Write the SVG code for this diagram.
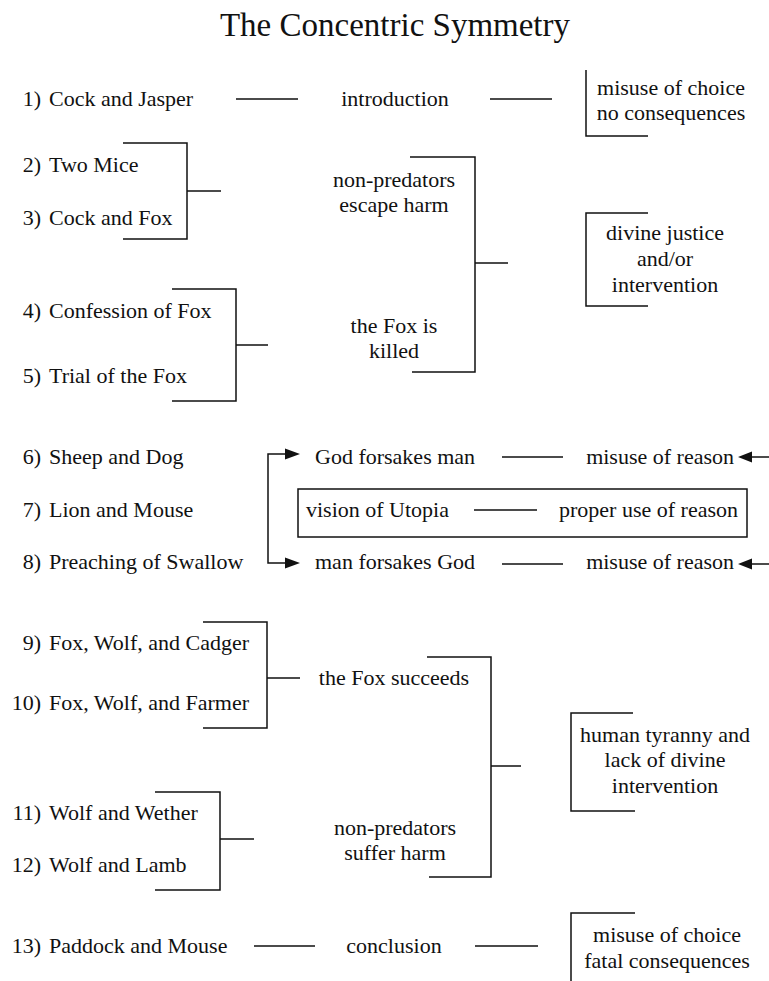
<svg xmlns="http://www.w3.org/2000/svg" width="769" height="981" viewBox="0 0 769 981">
<style>
text{font-family:"Liberation Serif","Times New Roman",serif;font-size:22px;fill:#111}
.t{font-size:33px}
.m{text-anchor:middle}
.n{text-anchor:end}
.ln{stroke:#111;stroke-width:1.5;fill:none}
.ah{fill:#111}
</style>
<rect width="769" height="981" fill="#fff"/>
<text class="t m" x="395" y="36">The Concentric Symmetry</text>

<g id="fables">
<g id="f1"><text class="n" x="41" y="106">1)</text><text x="49" y="106">Cock and Jasper</text></g>
<g id="f2"><text class="n" x="41" y="172">2)</text><text x="49" y="172">Two Mice</text></g>
<g id="f3"><text class="n" x="41" y="225">3)</text><text x="49" y="225">Cock and Fox</text></g>
<g id="f4"><text class="n" x="41" y="318">4)</text><text x="49" y="318">Confession of Fox</text></g>
<g id="f5"><text class="n" x="41" y="383">5)</text><text x="49" y="383">Trial of the Fox</text></g>
<g id="f6"><text class="n" x="41" y="464">6)</text><text x="49" y="464">Sheep and Dog</text></g>
<g id="f7"><text class="n" x="41" y="517">7)</text><text x="49" y="517">Lion and Mouse</text></g>
<g id="f8"><text class="n" x="41" y="569">8)</text><text x="49" y="569">Preaching of Swallow</text></g>
<g id="f9"><text class="n" x="41" y="650">9)</text><text x="49" y="650">Fox, Wolf, and Cadger</text></g>
<g id="f10"><text class="n" x="41" y="710">10)</text><text x="49" y="710">Fox, Wolf, and Farmer</text></g>
<g id="f11"><text class="n" x="41" y="820">11)</text><text x="49" y="820">Wolf and Wether</text></g>
<g id="f12"><text class="n" x="41" y="872">12)</text><text x="49" y="872">Wolf and Lamb</text></g>
<g id="f13"><text class="n" x="41" y="953">13)</text><text x="49" y="953">Paddock and Mouse</text></g>
</g>

<g id="themes">
<g id="introduction"><text class="m" x="395" y="106">introduction</text></g>
<g id="escape"><text class="m" x="394" y="187">non-predators</text><text class="m" x="394" y="212">escape harm</text></g>
<g id="killed"><text class="m" x="394" y="333">the Fox is</text><text class="m" x="394" y="358">killed</text></g>
<g id="godforsakes"><text x="315" y="464">God forsakes man</text></g>
<g id="utopia"><rect class="ln" x="298" y="489" width="449" height="48"/><text x="306" y="517">vision of Utopia</text><text x="559" y="517">proper use of reason</text></g>
<g id="manforsakes"><text x="315" y="569">man forsakes God</text></g>
<g id="misuse1"><text class="n" x="734" y="464">misuse of reason</text></g>
<g id="misuse2"><text class="n" x="734" y="569">misuse of reason</text></g>
<g id="succeeds"><text class="m" x="394" y="685">the Fox succeeds</text></g>
<g id="suffer"><text class="m" x="395" y="835">non-predators</text><text class="m" x="395" y="860">suffer harm</text></g>
<g id="conclusion"><text class="m" x="394" y="953">conclusion</text></g>
</g>

<g id="meanings">
<g id="m1"><text class="m" x="671" y="95">misuse of choice</text><text class="m" x="671" y="120">no consequences</text></g>
<g id="m2"><text class="m" x="665" y="240">divine justice</text><text class="m" x="665" y="266">and/or</text><text class="m" x="665" y="292">intervention</text></g>
<g id="m3"><text class="m" x="665" y="742">human tyranny and</text><text class="m" x="665" y="767">lack of divine</text><text class="m" x="665" y="793">intervention</text></g>
<g id="m4"><text class="m" x="667" y="942">misuse of choice</text><text class="m" x="667" y="968">fatal consequences</text></g>
</g>

<g id="connectors">
<path class="ln" d="M236 99H298 M490 99H552"/>
<path class="ln" d="M586 70V136H648"/>
<path class="ln" d="M123 143H187V239H123 M187 191H221"/>
<path class="ln" d="M410 157H475V372H412 M475 263H508"/>
<path class="ln" d="M648 213H586V306H648"/>
<path class="ln" d="M172 289H236V401H172 M236 345H268"/>
<path class="ln" d="M286 454H268V563H286"/>
<path class="ah" d="M300 454L285 448.5V459.5Z M300 563L285 557.5V568.5Z"/>
<path class="ln" d="M502 457H563 M474 510H537 M502 564H563"/>
<path class="ln" d="M749 457H769 M749 564H769"/>
<path class="ah" d="M738 457L752 451.5V462.5Z M738 564L752 558.5V569.5Z"/>
<path class="ln" d="M203 622H267V728H203 M267 678H300"/>
<path class="ln" d="M427 657H491V877H429 M491 766H521"/>
<path class="ln" d="M633 713H571V811H635"/>
<path class="ln" d="M155 792H220V890H155 M220 839H254"/>
<path class="ln" d="M254 946H315 M475 946H538"/>
<path class="ln" d="M635 913H571V981"/>
</g>
</svg>
